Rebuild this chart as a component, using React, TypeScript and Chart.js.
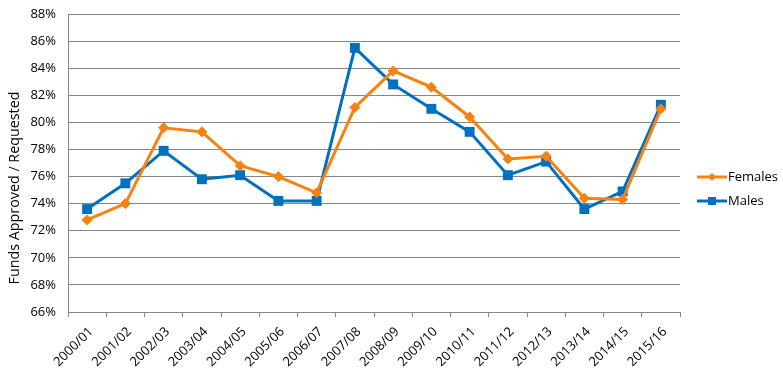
import React, { useEffect, useRef } from "react";
import { Chart, registerables } from "chart.js";

Chart.register(...registerables);

const categories = [
  "2000/01", "2001/02", "2002/03", "2003/04", "2004/05", "2005/06", "2006/07", "2007/08",
  "2008/09", "2009/10", "2010/11", "2011/12", "2012/13", "2013/14", "2014/15", "2015/16",
];
const females = [72.8, 74.0, 79.6, 79.3, 76.8, 76.0, 74.8, 81.1, 83.8, 82.6, 80.4, 77.3, 77.5, 74.4, 74.3, 81.0];
const males = [73.6, 75.5, 77.9, 75.8, 76.1, 74.2, 74.2, 85.5, 82.8, 81.0, 79.3, 76.1, 77.1, 73.6, 74.9, 81.3];
const yMin = 66;
const yMax = 88;
const yStep = 2;
const yTitle = "Funds Approved / Requested";

const ORANGE = "#F7820F";
const BLUE = "#0070C0";
const GRID = "#878787";
const FONT = "'Open Sans', sans-serif";

const extrasPlugin = {
  id: "extras",
  afterDraw(chart: any) {
    const ctx = chart.ctx;
    ctx.save();
    // y-axis title
    ctx.fillStyle = "#000";
    ctx.font = `14.3px ${FONT}`;
    ctx.textAlign = "center";
    ctx.textBaseline = "middle";
    ctx.translate(15, 188);
    ctx.rotate(-Math.PI / 2);
    ctx.fillText(yTitle, 0, 0);
    ctx.restore();

    // legend
    const items = chart.data.datasets.map((ds: any) => ds);
    const ys = [177, 201];
    items.forEach((ds: any, i: number) => {
      const y = ys[i];
      ctx.save();
      ctx.strokeStyle = ds.borderColor;
      ctx.lineWidth = 3;
      ctx.beginPath();
      ctx.moveTo(697, y);
      ctx.lineTo(727, y);
      ctx.stroke();
      ctx.fillStyle = ds.borderColor;
      if (ds.pointStyle === "rect") {
        ctx.fillRect(712 - 4, y - 4, 8, 8);
      } else {
        ctx.beginPath();
        ctx.moveTo(712, y - 4);
        ctx.lineTo(716, y);
        ctx.lineTo(712, y + 4);
        ctx.lineTo(708, y);
        ctx.closePath();
        ctx.fill();
      }
      ctx.fillStyle = "#000";
      ctx.font = `13px ${FONT}`;
      ctx.textAlign = "left";
      ctx.textBaseline = "middle";
      ctx.fillText(ds.label, 728, y + 0.5);
      ctx.restore();
    });
  },
};

export default function App() {
  const ref = useRef<HTMLCanvasElement | null>(null);
  useEffect(() => {
    document.body.style.margin = "0";
    const chart = new Chart(ref.current as HTMLCanvasElement, {
      type: "line",
      data: {
        labels: categories,
        datasets: [
          {
            label: "Females",
            data: females,
            borderColor: ORANGE,
            backgroundColor: ORANGE,
            borderWidth: 3,
            pointStyle: "rectRot",
            pointRadius: 5,
            pointBorderWidth: 1,
            tension: 0,
          },
          {
            label: "Males",
            data: males,
            borderColor: BLUE,
            backgroundColor: BLUE,
            borderWidth: 3,
            pointStyle: "rect",
            pointRadius: 7,
            pointBorderWidth: 0,
            tension: 0,
          },
        ],
      },
      options: {
        animation: false,
        responsive: false,
        events: [],
        layout: { padding: { left: 0, right: 103, top: 14, bottom: 0 } },
        plugins: { legend: { display: false }, tooltip: { enabled: false } },
        scales: {
          x: {
            offset: true,
            grid: {
              offset: true,
              drawOnChartArea: false,
              drawTicks: true,
              tickLength: 5,
              color: GRID,
            },
            border: { color: GRID, width: 1 },
            ticks: {
              minRotation: 45,
              maxRotation: 45,
              autoSkip: false,
              color: "#000",
              font: { family: FONT, size: 13 },
              padding: 7,
              labelOffset: 4,
            },
            afterFit: (s: any) => {
              s.height = 72;
              s.paddingLeft = 0;
              s.paddingRight = 0;
            },
          },
          y: {
            min: yMin,
            max: yMax,
            grid: { color: GRID, drawTicks: false, lineWidth: 1 },
            border: { color: GRID, width: 1 },
            ticks: {
              stepSize: yStep,
              color: "#000",
              padding: 12,
              font: { family: FONT, size: 13 },
              callback: (v: any) => `${v}%`,
            },
            afterFit: (s: any) => {
              s.width = 68;
              s.paddingTop = 0;
              s.paddingBottom = 0;
            },
          },
        },
      },
      plugins: [extrasPlugin],
    });
    return () => chart.destroy();
  }, []);
  return (
    <div style={{ width: 783, height: 384 }}>
      <canvas ref={ref} width={783} height={384} style={{ display: "block" }} />
    </div>
  );
}
